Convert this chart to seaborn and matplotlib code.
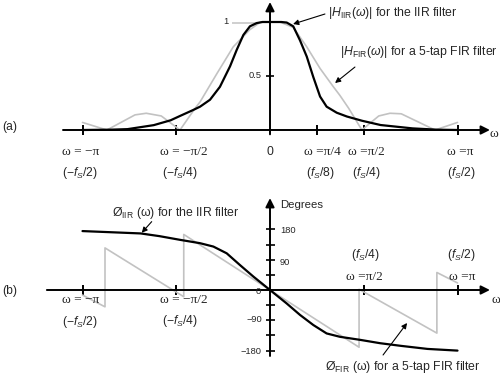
import matplotlib
matplotlib.use("Agg")
import matplotlib.pyplot as plt
import seaborn as sns

# frequency axis is in units of pi (w / pi)

# |H_IIR(w)| - black curve, panel (a)
iir_mag_w = [-1.0, -0.85, -0.76, -0.62, -0.53, -0.48, -0.41, -0.373, -0.32, -0.267,
             -0.213, -0.178, -0.142, -0.107, -0.071, -0.04, 0.0, 0.06, 0.089, 0.124,
             0.16, 0.196, 0.231, 0.267, 0.302, 0.356, 0.41, 0.49, 0.59, 0.76,
             0.89, 1.0]
iir_mag = [0.0, 0.003, 0.008, 0.045, 0.09, 0.13, 0.185, 0.216, 0.28, 0.40,
           0.59, 0.74, 0.88, 0.96, 0.99, 1.0, 1.0, 1.0, 0.995, 0.96,
           0.83, 0.68, 0.49, 0.31, 0.216, 0.16, 0.125, 0.086, 0.046, 0.015,
           0.003, 0.0]

# |H_FIR(w)| - gray curve, panel (a)
fir_mag_w = [-1.0, -0.87, -0.72, -0.66, -0.58, -0.48, -0.4, -0.373, -0.284, -0.196,
             -0.107, -0.05, 0.0, 0.053, 0.124, 0.196, 0.267, 0.338, 0.373, 0.42,
             0.49, 0.58, 0.64, 0.7, 0.88, 1.0]
fir_mag = [0.07, 0.0, 0.14, 0.155, 0.13, 0.0, 0.2, 0.26, 0.52, 0.77,
           0.93, 1.0, 1.0, 1.0, 0.95, 0.77, 0.57, 0.4, 0.32, 0.2,
           0.0, 0.13, 0.155, 0.15, 0.0, 0.07]

# IIR phase in degrees - black curve, panel (b)
iir_phase_w = [-1.0, -0.69, -0.59, -0.48, -0.373, -0.302, -0.231, -0.16, -0.089, 0.0,
               0.089, 0.16, 0.231, 0.302, 0.373, 0.48, 0.587, 0.7, 0.84, 1.0]
iir_phase = [175, 168, 160, 149, 139, 129, 109, 74, 40, 0,
             -40, -74, -104, -129, -139, -148, -158, -166, -175, -180]

# FIR phase in degrees (wraps at the zeros) - gray curve, panel (b)
fir_phase_w = [-1.0, -0.88, -0.88, -0.46, -0.46, 0.0, 0.475, 0.475, 0.89, 0.89, 1.0]
fir_phase = [-15, -50, 125, -20, 165, 0, -170, 2, -128, 52, 21]

xticks_a = [-1.0, -0.5, 0.25, 0.5, 1.0]
xticks_b = [-1.0, -0.5, 0.5, 1.0]
yticks_b = [-180, -135, -90, -45, 45, 90, 135, 180]

GRAY = "#c2c2c2"

sns.set_theme(style="white")
plt.rcParams["font.family"] = ["Liberation Sans", "DejaVu Sans"]
plt.rcParams["mathtext.fontset"] = "custom"
plt.rcParams["mathtext.rm"] = "Liberation Sans"
plt.rcParams["mathtext.it"] = "Liberation Sans:italic"
plt.rcParams["mathtext.bf"] = "Liberation Sans:bold"

fig = plt.figure(figsize=(5, 3.77), dpi=100)
ax_a = fig.add_axes([0, 1 - 185 / 377, 1, 185 / 377])
ax_b = fig.add_axes([0, 0, 1, 192 / 377])

xlim = (-270 / 187.5, 230 / 187.5)
ax_a.set_xlim(*xlim)
ax_a.set_ylim((130 - 185) / 108, 130 / 108)
ax_b.set_xlim(*xlim)
ax_b.set_ylim((290 - 377) * 2.97, (290 - 185) * 2.97)
for ax in (ax_a, ax_b):
    ax.axis("off")

axis_arrow = dict(arrowstyle="-|>", color="black", lw=1.4, mutation_scale=13,
                  shrinkA=0, shrinkB=0)
note_arrow = dict(arrowstyle="-|>", color="black", lw=0.8, mutation_scale=8,
                  shrinkA=0, shrinkB=0)
serif = ["Liberation Serif", "DejaVu Serif"]
fs_note = 8.8
fs_omega = 9.6
fs_freq = 8.7
fs_small = 6.7

# ---------------- panel (a) ----------------
ax_a.annotate("", xy=(1.173, 0), xytext=(-1.104, 0), arrowprops=axis_arrow)
ax_a.annotate("", xy=(0, 1.185), xytext=(0, -0.04), arrowprops=axis_arrow)
ax_a.vlines(xticks_a, -0.045, 0.045, color="black", lw=1.4)
ax_a.hlines(0.5, -0.022, 0.022, color="black", lw=1.2)
ax_a.hlines(0.99, -0.205, -0.06, color=GRAY, lw=1.1)

sns.lineplot(x=fir_mag_w, y=fir_mag, ax=ax_a, color=GRAY, lw=1.2,
             estimator=None, sort=False)
sns.lineplot(x=iir_mag_w, y=iir_mag, ax=ax_a, color="black", lw=1.6,
             estimator=None, sort=False)

ax_a.text(-1.429, 0.03, "(a)", fontsize=fs_freq, ha="left", va="center")
row1, row2 = -0.204, -0.398
for w, lab in [(-1.011, "ω = −π"), (-0.459, "ω = −π/2"), (0.277, "ω =π/4"),
               (0.512, "ω =π/2"), (1.013, "ω =π")]:
    ax_a.text(w, row1, lab, fontsize=fs_omega, ha="center", va="center", family=serif)
ax_a.text(0, row1, "0", fontsize=fs_freq, ha="center", va="center")
for w, lab in [(-1.011, r"$(-\mathit{f}_{\mathit{S}}/2)$"),
               (-0.48, r"$(-\mathit{f}_{\mathit{S}}/4)$"),
               (0.267, r"$(\mathit{f}_{\mathit{S}}/8)$"),
               (0.512, r"$(\mathit{f}_{\mathit{S}}/4)$"),
               (1.019, r"$(\mathit{f}_{\mathit{S}}/2)$")]:
    ax_a.text(w, row2, lab, fontsize=fs_freq, ha="center", va="center")
ax_a.text(1.195, -0.037, "ω", fontsize=fs_omega, ha="center", va="center", family=serif)
ax_a.text(-0.219, 1.0, "1", fontsize=fs_small, ha="right", va="center")
ax_a.text(-0.043, 0.509, "0.5", fontsize=fs_small, ha="right", va="center")

ax_a.text(0.309, 1.083, r"$|\mathit{H}_{\rm IIR}(\omega)|$ for the IIR filter",
          fontsize=fs_note, ha="left", va="center")
ax_a.annotate("", xy=(0.123, 0.981), xytext=(0.293, 1.074), arrowprops=note_arrow)
ax_a.text(0.373, 0.722, r"$|\mathit{H}_{\rm FIR}(\omega)|$ for a 5-tap FIR filter",
          fontsize=fs_note, ha="left", va="center")
ax_a.annotate("", xy=(0.347, 0.435), xytext=(0.453, 0.583), arrowprops=note_arrow)

# ---------------- panel (b) ----------------
ax_b.annotate("", xy=(1.173, 0), xytext=(-1.19, 0), arrowprops=axis_arrow)
ax_b.annotate("", xy=(0, 273), xytext=(0, -196), arrowprops=axis_arrow)
ax_b.vlines(xticks_b, -15, 15, color="black", lw=1.4)
ax_b.hlines(yticks_b, -0.024, 0.024, color="black", lw=1.2)

sns.lineplot(x=fir_phase_w, y=fir_phase, ax=ax_b, color=GRAY, lw=1.2,
             estimator=None, sort=False)
sns.lineplot(x=iir_phase_w, y=iir_phase, ax=ax_b, color="black", lw=1.6,
             estimator=None, sort=False)

ax_b.text(-1.429, -3, "(b)", fontsize=fs_freq, ha="left", va="center")
for w, d, lab in [(-1.011, -29.7, "ω = −π"), (-0.459, -29.7, "ω = −π/2"),
                  (0.501, 38.6, "ω =π/2"), (1.024, 38.6, "ω =π")]:
    ax_b.text(w, d, lab, fontsize=fs_omega, ha="center", va="center", family=serif)
for w, d, lab in [(-1.011, -95, r"$(-\mathit{f}_{\mathit{S}}/2)$"),
                  (-0.48, -92, r"$(-\mathit{f}_{\mathit{S}}/4)$"),
                  (0.507, 104, r"$(\mathit{f}_{\mathit{S}}/4)$"),
                  (1.019, 104, r"$(\mathit{f}_{\mathit{S}}/2)$")]:
    ax_b.text(w, d, lab, fontsize=fs_freq, ha="center", va="center")
ax_b.text(1.205, -29.7, "ω", fontsize=fs_omega, ha="center", va="center", family=serif)
ax_b.text(0.053, 252, "Degrees", fontsize=8.2, ha="left", va="center")
ax_b.text(0.053, 178, "180", fontsize=fs_small, ha="left", va="center")
ax_b.text(0.053, 83, "90", fontsize=fs_small, ha="left", va="center")
ax_b.text(-0.048, -3, "0", fontsize=fs_small, ha="right", va="center")
ax_b.text(-0.043, -89, "−90", fontsize=fs_small, ha="right", va="center")
ax_b.text(-0.043, -184, "−180", fontsize=fs_small, ha="right", va="center")

ax_b.text(-0.843, 229, r"Ø$_{\rm IIR}$ (ω) for the IIR filter",
          fontsize=fs_note, ha="left", va="center")
ax_b.annotate("", xy=(-0.684, 170), xytext=(-0.631, 203), arrowprops=note_arrow)
ax_b.text(0.293, -229, r"Ø$_{\rm FIR}$ (ω) for a 5-tap FIR filter",
          fontsize=fs_note, ha="left", va="center")
ax_b.annotate("", xy=(0.731, -98), xytext=(0.603, -193), arrowprops=note_arrow)

fig.savefig("out.png", dpi=100)
